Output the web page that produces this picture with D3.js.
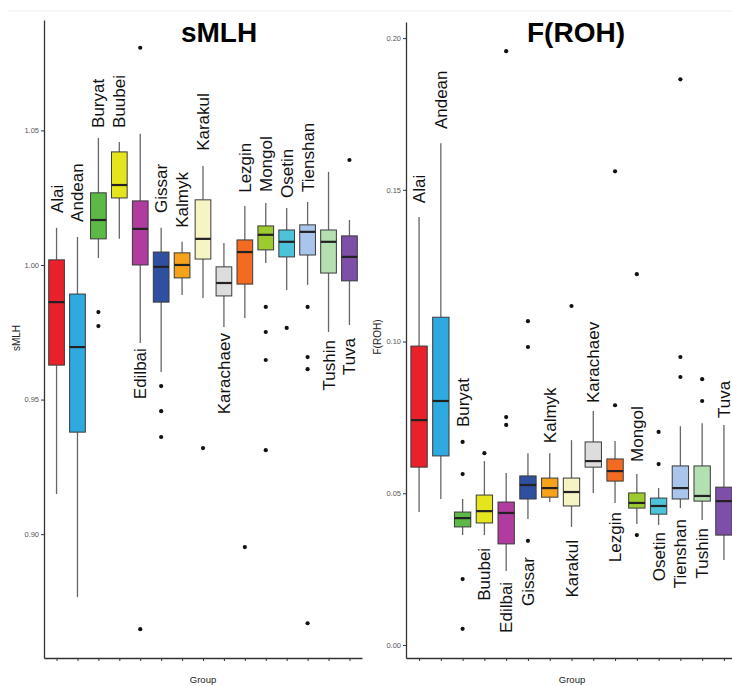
<!DOCTYPE html>
<html>
<head>
<meta charset="utf-8">
<script src="https://cdn.jsdelivr.net/npm/d3@7"></script>
<style>
  body { margin: 0; background: #fff; }
  svg { font-family: "Liberation Sans", Arial, sans-serif; }
</style>
</head>
<body>
<svg id="chart" width="732" height="686"></svg>
<script>
// groups and fill colours (same order in both panels)
var groups = ["Alai","Andean","Buryat","Buubei","Edilbai","Gissar","Kalmyk","Karakul",
              "Karachaev","Lezgin","Mongol","Osetin","Tienshan","Tushin","Tuva"];
var colors = ["#e8212b","#2eaae1","#5cb946","#e5e51e","#b03ca0","#2f4fa0","#f7a21b","#f7f4c4",
              "#dddddd","#f36b21","#9dcb2f","#4cc3d8","#a9c5eb","#b4dfb1","#7d4fa6"];

// sMLH box stats
var smlhLow  = [0.9149,0.8766,1.0026,1.0097,0.9710,0.9602,0.9888,0.9877,0.9770,0.9803,1.0007,0.9907,0.9926,0.9751,0.9777];
var smlhQ1   = [0.9628,0.9379,1.0097,1.0249,1.0000,0.9862,0.9952,1.0022,0.9885,0.9929,1.0056,1.0030,1.0037,0.9970,0.9941];
var smlhMed  = [0.9862,0.9695,1.0167,1.0297,1.0134,0.9993,1.0000,1.0097,0.9933,1.0048,1.0112,1.0086,1.0123,1.0086,1.0030];
var smlhQ3   = [1.0019,0.9892,1.0268,1.0420,1.0238,1.0048,1.0045,1.0242,0.9993,1.0093,1.0145,1.0130,1.0149,1.0130,1.0108];
var smlhHigh = [1.0138,1.0104,1.0472,1.0457,1.0487,1.0138,1.0086,1.0368,1.0082,1.0219,1.0230,1.0212,1.0234,1.0346,1.0167];
var smlhOut  = [[],[],[0.9825,0.9773],[],[1.0807,0.8647],[0.9550,0.9457,0.9361],[],[0.9320],
                [],[0.8952],[0.9844,0.9751,0.9647,0.9312],[0.9766],[0.9844,0.9658,0.9613,0.8669],[],[1.0390]];
var smlhLabelSide = ["up","up","up","up","down","up","up","up","down","up","up","up","up","down","down"];
var smlhLabelAt   = [1.0193,1.0160,1.0509,1.0509,0.9691,1.0193,1.0138,1.0424,0.9747,1.0268,1.0271,1.0249,1.0271,0.9721,0.9729];
var smlhTicks = [0.90,0.95,1.00,1.05];

// F(ROH) box stats
var frohLow  = [0.0438,0.0481,0.0362,0.0362,0.0244,0.0415,0.0471,0.0389,0.0501,0.0468,0.0399,0.0395,0.0451,0.0412,0.0280];
var frohQ1   = [0.0586,0.0623,0.0389,0.0402,0.0333,0.0481,0.0487,0.0458,0.0586,0.0540,0.0451,0.0431,0.0481,0.0474,0.0362];
var frohMed  = [0.0741,0.0804,0.0418,0.0441,0.0435,0.0527,0.0517,0.0504,0.0606,0.0573,0.0468,0.0458,0.0517,0.0491,0.0474];
var frohQ3   = [0.0985,0.1080,0.0438,0.0494,0.0471,0.0557,0.0550,0.0550,0.0669,0.0613,0.0501,0.0484,0.0590,0.0590,0.0520];
var frohHigh = [0.1410,0.1653,0.0481,0.0606,0.0567,0.0632,0.0632,0.0675,0.0771,0.0672,0.0563,0.0517,0.0721,0.0731,0.0725];
var frohOut  = [[],[],[0.0669,0.0563,0.0217,0.0053],[0.0632],[0.1957,0.0751,0.0725],[0.1067,0.0982,0.0343],[],[0.1117],
                [],[0.1561,0.0790],[0.1222,0.0362],[0.0702,0.0596],[0.1864,0.0949,0.0883],[0.0876,0.0804],[]];
var frohLabelSide = ["up","up","up","down","down","down","up","down","up","down","up","down","down","down","up"];
var frohLabelAt   = [0.1456,0.1700,0.0718,0.0320,0.0208,0.0290,0.0665,0.0346,0.0797,0.0438,0.0603,0.0372,0.0415,0.0385,0.0748];
var frohTicks = [0.00,0.05,0.10,0.15,0.20];

var svg = d3.select("#chart");

// faint frame line at the top of the image
svg.append("line").attr("x1",8).attr("x2",732).attr("y1",11).attr("y2",11)
   .attr("stroke","#eeeeee").attr("stroke-width",1);

function drawPanel(opts){
    var g = svg.append("g");
    var x = d3.scalePoint().domain(groups).range([opts.left, opts.right]).padding(0.6);
    var y = d3.scaleLinear().domain(opts.domain).range([opts.bottom, opts.top]);
    var bw = x.step() * 0.75;

    // axes
    var ya = g.append("g").attr("transform","translate(" + opts.left + ",0)")
        .call(d3.axisLeft(y).tickValues(opts.ticks).tickFormat(d3.format(".2f")).tickSize(3).tickSizeOuter(0).tickPadding(2));
    ya.select(".domain").attr("stroke","#333").attr("stroke-width",1.3);
    ya.selectAll(".tick line").attr("stroke","#333");
    ya.selectAll(".tick text").attr("fill","#555").style("font-size","7.5px");

    var xa = g.append("g").attr("transform","translate(0," + opts.bottom + ")")
        .call(d3.axisBottom(x).tickSize(3).tickSizeOuter(0).tickFormat(""));
    xa.select(".domain").attr("stroke","#333").attr("stroke-width",1.3);
    xa.selectAll(".tick line").attr("stroke","#333");

    var rows = groups.map(function(name,i){
        return {name:name, color:colors[i], low:opts.low[i], q1:opts.q1[i], med:opts.med[i],
                q3:opts.q3[i], high:opts.high[i], out:opts.out[i],
                side:opts.side[i], at:opts.labelAt[i]};
    });

    var box = g.selectAll(".box").data(rows).enter().append("g").attr("class","box");

    // whiskers
    box.append("line")
        .attr("x1",function(d){return x(d.name);}).attr("x2",function(d){return x(d.name);})
        .attr("y1",function(d){return y(d.high);}).attr("y2",function(d){return y(d.q3);})
        .attr("stroke","#666").attr("stroke-width",1.3);
    box.append("line")
        .attr("x1",function(d){return x(d.name);}).attr("x2",function(d){return x(d.name);})
        .attr("y1",function(d){return y(d.q1);}).attr("y2",function(d){return y(d.low);})
        .attr("stroke","#666").attr("stroke-width",1.3);

    // boxes
    box.append("rect")
        .attr("x",function(d){return x(d.name) - bw/2;})
        .attr("y",function(d){return y(d.q3);})
        .attr("width",bw)
        .attr("height",function(d){return y(d.q1) - y(d.q3);})
        .attr("fill",function(d){return d.color;})
        .attr("stroke","#3a3a3a").attr("stroke-width",1);

    // medians
    box.append("line")
        .attr("x1",function(d){return x(d.name) - bw/2;}).attr("x2",function(d){return x(d.name) + bw/2;})
        .attr("y1",function(d){return y(d.med);}).attr("y2",function(d){return y(d.med);})
        .attr("stroke","#222").attr("stroke-width",2.2);

    // outliers
    box.selectAll(".out").data(function(d){return d.out.map(function(v){return {name:d.name, v:v};});})
        .enter().append("circle")
        .attr("cx",function(d){return x(d.name);})
        .attr("cy",function(d){return y(d.v);})
        .attr("r",2.1).attr("fill","#111");

    // group labels, rotated
    box.append("text")
        .attr("transform",function(d){return "translate(" + (x(d.name) + 6) + "," + y(d.at) + ") rotate(-90)";})
        .attr("text-anchor",function(d){return d.side === "up" ? "start" : "end";})
        .attr("fill","#111")
        .style("font-size","17px")
        .text(function(d){return d.name;});

    // axis titles and panel title
    g.append("text").attr("transform","translate(" + opts.ylabX + "," + opts.ylabY + ") rotate(-90)")
        .attr("text-anchor","middle").attr("fill","#222").style("font-size","10px").text(opts.ylab);
    g.append("text").attr("x",opts.groupX).attr("y",683).attr("text-anchor","middle")
        .attr("fill","#222").style("font-size","9.5px").text("Group");
    g.append("text").attr("x",opts.titleX).attr("y",42).attr("text-anchor","middle")
        .attr("fill","#000").style("font-size","28px").style("font-weight","bold").text(opts.title);
}

drawPanel({left:44, right:362, top:20, bottom:658, domain:[0.854,1.091], ticks:smlhTicks,
           low:smlhLow, q1:smlhQ1, med:smlhMed, q3:smlhQ3, high:smlhHigh, out:smlhOut,
           side:smlhLabelSide, labelAt:smlhLabelAt,
           ylab:"sMLH", ylabX:20, ylabY:338, groupX:203, title:"sMLH", titleX:219});

drawPanel({left:406, right:737, top:22, bottom:658, domain:[-0.0043,0.2053], ticks:frohTicks,
           low:frohLow, q1:frohQ1, med:frohMed, q3:frohQ3, high:frohHigh, out:frohOut,
           side:frohLabelSide, labelAt:frohLabelAt,
           ylab:"F(ROH)", ylabX:381, ylabY:337, groupX:572, title:"F(ROH)", titleX:576});
</script>
</body>
</html>
